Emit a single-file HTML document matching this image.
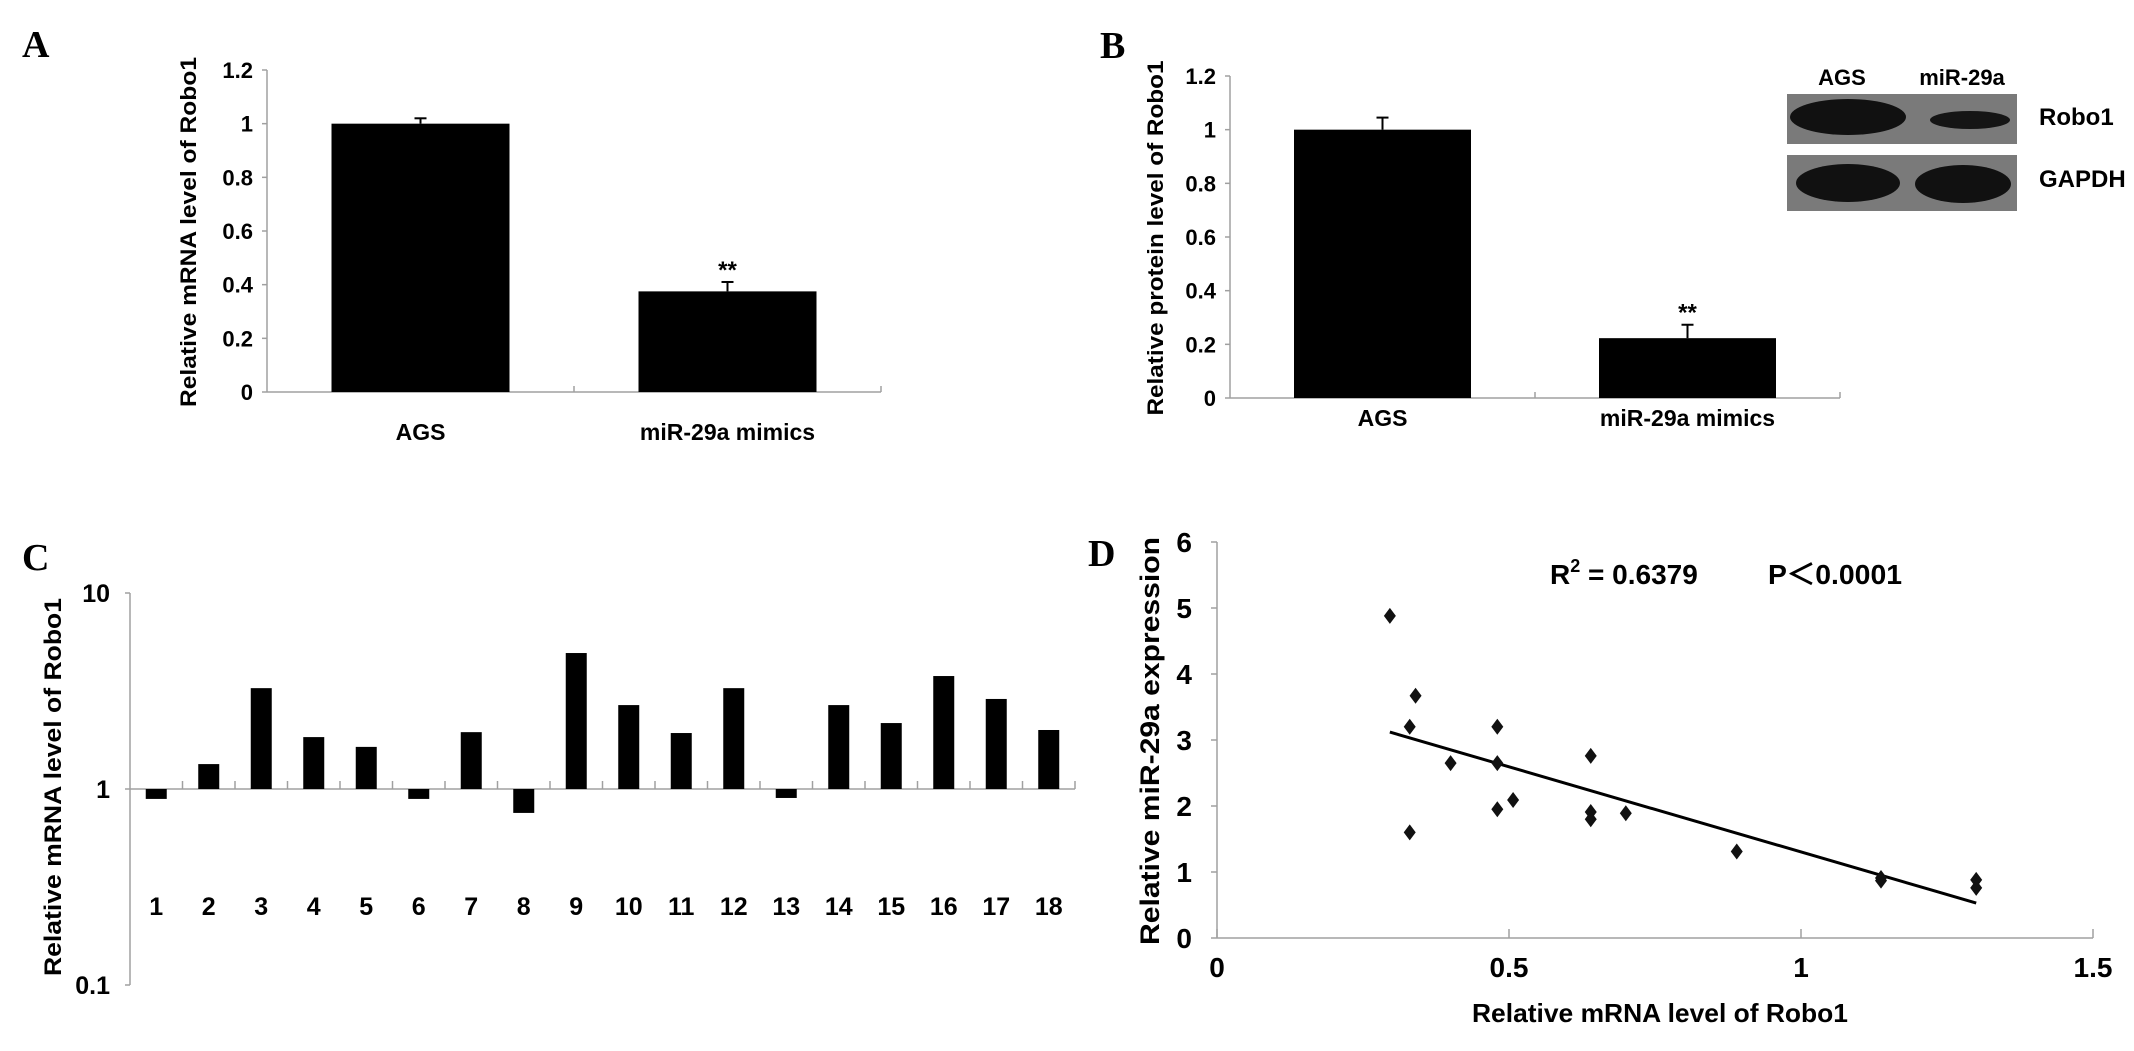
<!DOCTYPE html>
<html><head><meta charset="utf-8">
<style>
html,body{margin:0;padding:0;background:#fff;}
svg{display:block;}
.pl{font-family:"Liberation Serif",serif;font-weight:bold;font-size:38px;fill:#000;}
.tk{font-family:"Liberation Sans Narrow","Liberation Sans",sans-serif;font-weight:bold;fill:#000;}
.tt{font-family:"Liberation Sans",sans-serif;font-weight:bold;fill:#000;}
</style></head>
<body>
<svg id="fig" width="2134" height="1051" viewBox="0 0 2134 1051" xmlns="http://www.w3.org/2000/svg">
<text class="pl" x="22" y="57">A</text>
<text class="pl" x="1100" y="58">B</text>
<text class="pl" x="22" y="570">C</text>
<text class="pl" x="1088" y="566">D</text>
<g id="blot">
 <text class="tk" x="1842" y="85" font-size="22" text-anchor="middle">AGS</text>
 <text class="tk" x="1962" y="85" font-size="22" text-anchor="middle">miR-29a</text>
 <rect x="1787" y="94" width="230" height="50" fill="#7a7a7a"/>
 <ellipse cx="1848" cy="117" rx="58" ry="18" fill="#111"/>
 <ellipse cx="1970" cy="120" rx="40" ry="9" fill="#151515"/>
 <rect x="1787" y="155" width="230" height="56" fill="#7a7a7a"/>
 <ellipse cx="1848" cy="183" rx="52" ry="19" fill="#111"/>
 <ellipse cx="1963" cy="184" rx="48" ry="19" fill="#111"/>
 <text class="tk" x="2039" y="125" font-size="24">Robo1</text>
 <text class="tk" x="2039" y="187" font-size="24">GAPDH</text>
</g>
<text class="tt" x="1550" y="584" font-size="28">R<tspan dy="-12" font-size="18">2</tspan><tspan dy="12"> = 0.6379</tspan></text>
<text class="tt" x="1768" y="584" font-size="28" textLength="134" lengthAdjust="spacingAndGlyphs" font-family="'Liberation Sans','Noto Sans CJK SC',sans-serif">P＜0.0001</text>
</svg>
<script>
// Panel A data
const aCats = ["AGS", "miR-29a mimics"];
const aVals = [1.0, 0.375];
const aErr = [0.02, 0.035];
const aSig = ["", "**"];
const aTicks = [0, 0.2, 0.4, 0.6, 0.8, 1, 1.2];
// Panel B data
const bCats = ["AGS", "miR-29a mimics"];
const bVals = [1.0, 0.223];
const bErr = [0.045, 0.05];
const bSig = ["", "**"];
const bTicks = [0, 0.2, 0.4, 0.6, 0.8, 1, 1.2];
// Panel C data
const cCats = ["1","2","3","4","5","6","7","8","9","10","11","12","13","14","15","16","17","18"];
const cVals = [0.89,1.34,3.27,1.84,1.64,0.89,1.95,0.755,4.94,2.68,1.93,3.27,0.9,2.68,2.17,3.77,2.88,2.0];
const cTicks = [0.1, 1, 10];
// Panel D data
const dX = [0.296,0.34,0.33,0.48,0.40,0.48,0.48,0.507,0.33,0.64,0.64,0.64,0.70,0.89,1.137,1.137,1.30,1.30];
const dY = [4.88,3.67,3.2,3.2,2.65,2.65,1.95,2.09,1.6,2.76,1.91,1.80,1.89,1.31,0.91,0.87,0.88,0.76];
const dFitX = [0.296, 1.30];
const dFitY = [3.12, 0.53];
const dXTicks = [0, 0.5, 1, 1.5];
const dYTicks = [0, 1, 2, 3, 4, 5, 6];

const NS = "http://www.w3.org/2000/svg";
const svg = document.getElementById("fig");
function mk(tag, attrs, parent) {
  const e = document.createElementNS(NS, tag);
  for (const k in attrs) e.setAttribute(k, attrs[k]);
  (parent || svg).appendChild(e);
  return e;
}
const AX = "#a0a0a0";

function barPanel(p, cats, vals, errs, sigs, ticks, cfg) {
  const y = v => cfg.y0 - (v / cfg.vmax) * (cfg.y0 - cfg.ytop);
  const g = mk("g", {});
  
  
  const ya = mk("line", {x1: cfg.ax, x2: cfg.ax, y1: y(cfg.vmax), y2: cfg.y0, stroke: AX, "stroke-width": 1.5}, g);
  
  
  const xa = mk("line", {x1: cfg.ax, x2: cfg.xend, y1: cfg.y0, y2: cfg.y0, stroke: AX, "stroke-width": 1.5}, g);
  
  
  ticks.forEach(t => {
    const tl = mk("line", {x1: cfg.ax - 5, x2: cfg.ax, y1: y(t), y2: y(t), stroke: AX, "stroke-width": 1.5}, g);
    
    
    const tx = mk("text", {class: "tk", x: cfg.ax - 14, y: y(t) + 8, "font-size": 22, "text-anchor": "end"}, g);
    tx.textContent = String(t);
    
    
  });
  const n = cats.length, step = (cfg.xend - cfg.ax) / n;
  for (let i = 1; i <= n; i++) {
    const tl = mk("line", {x1: cfg.ax + i * step, x2: cfg.ax + i * step, y1: cfg.y0 - 6, y2: cfg.y0, stroke: AX, "stroke-width": 1.5}, g);
    
    
  }
  cats.forEach((c, i) => {
    const cx = cfg.ax + (i + 0.5) * step;
    const b = mk("rect", {x: cx - cfg.bw / 2, y: y(vals[i]), width: cfg.bw, height: cfg.y0 - y(vals[i]), fill: "#000"}, g);
    
    
    const e1 = mk("line", {x1: cx, x2: cx, y1: y(vals[i]), y2: y(vals[i] + errs[i]), stroke: "#000", "stroke-width": 2}, g);
    
    
    const e2 = mk("line", {x1: cx - 6, x2: cx + 6, y1: y(vals[i] + errs[i]), y2: y(vals[i] + errs[i]), stroke: "#000", "stroke-width": 2}, g);
    
    
    if (sigs[i]) {
      const s = mk("text", {class: "tt", x: cx, y: y(vals[i] + errs[i]) - 4, "font-size": 24, "text-anchor": "middle"}, g);
      s.textContent = sigs[i];
      
      
    }
    const l = mk("text", {class: "tk", x: cx, y: cfg.labY, "font-size": 23, "text-anchor": "middle"}, g);
    l.textContent = c;
    
    
  });
  const t = mk("text", {class: "tt", x: 0, y: 0, "font-size": 22, "text-anchor": "middle", textLength: cfg.tlen, lengthAdjust: "spacingAndGlyphs",
    transform: `translate(${cfg.tx},${cfg.ty}) rotate(-90)`}, g);
  t.textContent = cfg.title;
  
  
}
barPanel("a", aCats, aVals, aErr, aSig, aTicks, {ax: 267, xend: 881, y0: 392, ytop: 70, vmax: 1.2, bw: 178, labY: 440, tx: 196, ty: 232, tlen: 350, title: "Relative mRNA level of Robo1"});
barPanel("b", bCats, bVals, bErr, bSig, bTicks, {ax: 1230, xend: 1840, y0: 398, ytop: 76, vmax: 1.2, bw: 177, labY: 426, tx: 1163, ty: 238, tlen: 355, title: "Relative protein level of Robo1"});

// Panel C (log scale)
(function () {
  const ax = 130, xend = 1075, y1 = 789, dec = 196;
  const y = v => y1 - Math.log10(v) * dec;
  const g = mk("g", {});
  
  
  const ya = mk("line", {x1: ax, x2: ax, y1: y(10), y2: y(0.1), stroke: AX, "stroke-width": 1.5}, g);
  
  
  const xa = mk("line", {x1: ax, x2: xend, y1: y1, y2: y1, stroke: AX, "stroke-width": 1.5}, g);
  
  
  cTicks.forEach(t => {
    const tl = mk("line", {x1: ax - 5, x2: ax, y1: y(t), y2: y(t), stroke: AX, "stroke-width": 1.5}, g);
    
    
    const tx = mk("text", {class: "tk", x: ax - 20, y: y(t) + 9, "font-size": 25, "text-anchor": "end"}, g);
    tx.textContent = String(t);
    
    
  });
  const step = (xend - ax) / cCats.length;
  for (let i = 1; i <= cCats.length; i++) {
    const tl = mk("line", {x1: ax + i * step, x2: ax + i * step, y1: y1 - 8, y2: y1, stroke: AX, "stroke-width": 1.5}, g);
    
    
  }
  cCats.forEach((c, i) => {
    const cx = ax + (i + 0.5) * step;
    const top = Math.min(y(cVals[i]), y1), bot = Math.max(y(cVals[i]), y1);
    const b = mk("rect", {x: cx - 10.5, y: top, width: 21, height: bot - top, fill: "#000"}, g);
    
    
    const l = mk("text", {class: "tk", x: cx, y: 915, "font-size": 25, "text-anchor": "middle"}, g);
    l.textContent = c;
    
    
  });
  const t = mk("text", {class: "tt", x: 0, y: 0, "font-size": 24, "text-anchor": "middle", textLength: 378, lengthAdjust: "spacingAndGlyphs",
    transform: "translate(61,787) rotate(-90)"}, g);
  t.textContent = "Relative mRNA level of Robo1";
  
  
})();

// Panel D scatter
(function () {
  const x0 = 1217, pxX = 584, y0 = 938, pxY = 66;
  const X = v => x0 + v * pxX, Y = v => y0 - v * pxY;
  const g = mk("g", {});
  
  
  const ya = mk("line", {x1: X(0), x2: X(0), y1: Y(6), y2: Y(0), stroke: AX, "stroke-width": 1.5}, g);
  
  
  const xa = mk("line", {x1: X(0), x2: X(1.5), y1: Y(0), y2: Y(0), stroke: AX, "stroke-width": 1.5}, g);
  
  
  dYTicks.forEach(t => {
    const tl = mk("line", {x1: X(0) - 6, x2: X(0), y1: Y(t), y2: Y(t), stroke: AX, "stroke-width": 1.5}, g);
    
    
    const tx = mk("text", {class: "tk", x: 1192, y: Y(t) + 10, "font-size": 28, "text-anchor": "end"}, g);
    tx.textContent = String(t);
    
    
  });
  dXTicks.forEach(t => {
    const tl = mk("line", {x1: X(t), x2: X(t), y1: Y(0) - 9, y2: Y(0), stroke: AX, "stroke-width": 1.5}, g);
    
    
    const tx = mk("text", {class: "tk", x: X(t), y: 977, "font-size": 28, "text-anchor": "middle"}, g);
    tx.textContent = String(t);
    
    
  });
  const fit = mk("line", {x1: X(dFitX[0]), y1: Y(dFitY[0]), x2: X(dFitX[1]), y2: Y(dFitY[1]), stroke: "#000", "stroke-width": 3}, g);
  
  
  dX.forEach((vx, i) => {
    const cx = X(vx), cy = Y(dY[i]);
    const p = mk("polygon", {points: `${cx},${cy - 8} ${cx + 6},${cy} ${cx},${cy + 8} ${cx - 6},${cy}`, fill: "#111"}, g);
    
    
  });
  const xt = mk("text", {class: "tk", x: 1660, y: 1022, "font-size": 26, "text-anchor": "middle", textLength: 376, lengthAdjust: "spacingAndGlyphs"}, g);
  xt.textContent = "Relative mRNA level of Robo1";
  
  
  const yt = mk("text", {class: "tt", x: 0, y: 0, "font-size": 27, "text-anchor": "middle", textLength: 408, lengthAdjust: "spacingAndGlyphs",
    transform: "translate(1159,741) rotate(-90)"}, g);
  yt.textContent = "Relative miR-29a expression";
  
  
})();
</script>
</body></html>
